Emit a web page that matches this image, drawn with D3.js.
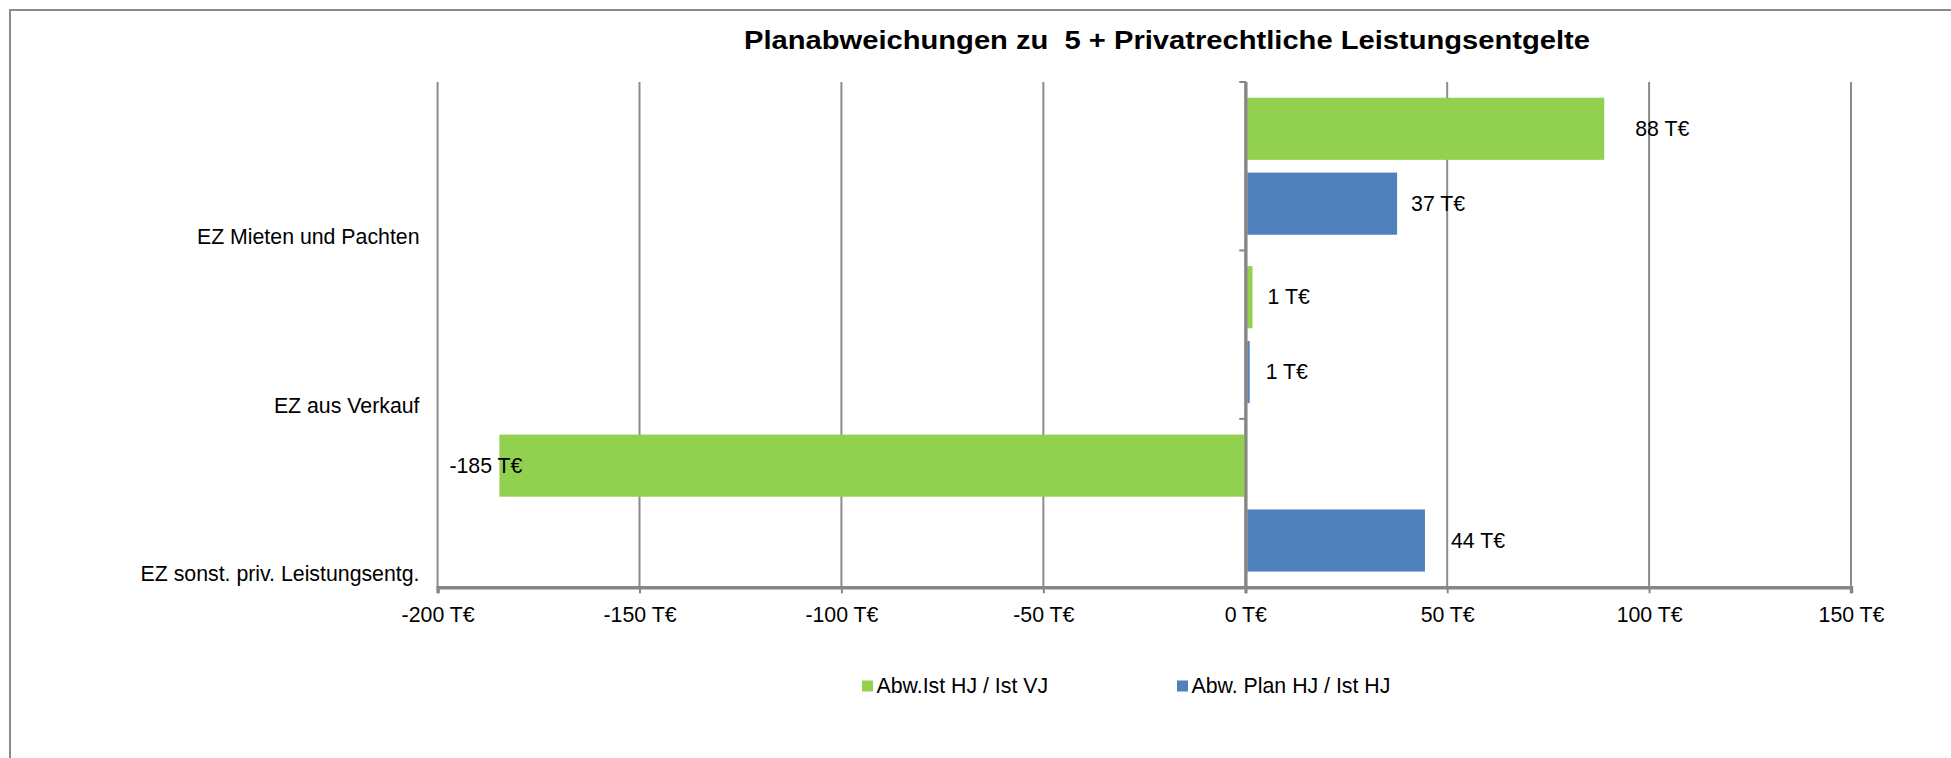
<!DOCTYPE html>
<html>
<head>
<meta charset="utf-8">
<script src="https://cdn.jsdelivr.net/npm/d3@7"></script>
<style>
  html, body { margin: 0; padding: 0; background: #fff; }
  svg { display: block; font-family: "Liberation Sans", Arial, sans-serif; }
</style>
</head>
<body>
<svg id="chart" width="1951" height="758"></svg>
<script>
// ---- data ----
const title = "Planabweichungen zu  5 + Privatrechtliche Leistungsentgelte";
const categories = ["EZ Mieten und Pachten", "EZ aus Verkauf", "EZ sonst. priv. Leistungsentg."];
const seriesNames = ["Abw.Ist HJ / Ist VJ", "Abw. Plan HJ / Ist HJ"];
const seriesIstVJ = [88.4, 1.3, -184.7];
const seriesPlanHJ = [37.1, 0.6, 44.0];
const xTicks = [-200, -150, -100, -50, 0, 50, 100, 150];
const seriesColors = ["#92D050", "#4F81BD"];

// ---- layout (not data) ----
const labelShift = [[33, 16], [17, 18], [-50, 28]]; // px nudges of value labels
const W = 1951, H = 758;
const plot = { left: 437.6, right: 1851, top: 82, bottom: 587.3 };
const fontSize = 21.3;

const svg = d3.select("#chart");

// chart border
svg.append("rect").attr("x", 10).attr("y", 10).attr("width", W + 20).attr("height", H + 20)
  .attr("fill", "#fff").attr("stroke", "#8c8c8c").attr("stroke-width", 2);

// title
svg.append("text").attr("x", 1167).attr("y", 48.5).attr("text-anchor", "middle")
  .attr("xml:space", "preserve").style("white-space", "pre")
  .attr("textLength", 846).attr("lengthAdjust", "spacingAndGlyphs")
  .attr("font-weight", "bold").attr("font-size", 26).attr("fill", "#000").text(title);

const x = d3.scaleLinear().domain([xTicks[0], xTicks[xTicks.length - 1]]).range([plot.left, plot.right]);
const y = d3.scaleBand().domain(categories).range([plot.top, plot.bottom]).paddingInner(0).paddingOuter(0);
const ySub = d3.scaleBand().domain([0, 1]).range([0, y.bandwidth()]).paddingInner(0.17).paddingOuter(0.21);

// gridlines
const g = svg.append("g");
g.selectAll("line.grid").data(xTicks).join("line").attr("class", "grid")
  .attr("x1", d => x(d)).attr("x2", d => x(d))
  .attr("y1", plot.top).attr("y2", plot.bottom)
  .attr("stroke", "#8c8c8c").attr("stroke-width", 2);

// bars (positive bars begin just right of the category axis line)
const rows = categories.map((c, i) => ({ cat: c, i, vals: [seriesIstVJ[i], seriesPlanHJ[i]] }));
const barData = [];
rows.forEach(r => r.vals.forEach((v, s) => barData.push({ cat: r.cat, i: r.i, s, v })));
const axisGap = 2;

svg.append("g").selectAll("rect").data(barData).join("rect")
  .attr("x", d => d.v >= 0 ? x(0) + axisGap : x(d.v))
  .attr("width", d => Math.abs(x(d.v) - x(0)))
  .attr("y", d => y(d.cat) + ySub(d.s))
  .attr("height", ySub.bandwidth())
  .attr("fill", d => seriesColors[d.s]);

// bottom axis
const xAxis = d3.axisBottom(x).tickValues(xTicks).tickSize(6).tickPadding(8).tickFormat(d => d + " T€");
const ax = svg.append("g").attr("transform", `translate(0,${plot.bottom})`).call(xAxis);
ax.select(".domain").attr("stroke", "#868686").attr("stroke-width", 3.5);
ax.selectAll(".tick line").attr("stroke", "#868686").attr("stroke-width", 2);
ax.selectAll(".tick text").attr("font-size", fontSize).attr("font-family", "Liberation Sans, Arial, sans-serif")
  .attr("fill", "#000").attr("dy", "0.95em");

// vertical category axis at 0
const yAxisG = svg.append("g");
yAxisG.append("line").attr("x1", x(0) + 0.8).attr("x2", x(0) + 0.8).attr("y1", plot.top).attr("y2", plot.bottom + 6)
  .attr("stroke", "#868686").attr("stroke-width", 3);
yAxisG.selectAll("line.ytick").data(categories.map(c => y(c)).concat([plot.bottom])).join("line")
  .attr("class", "ytick")
  .attr("x1", x(0) - 6).attr("x2", x(0) + 1).attr("y1", d => d).attr("y2", d => d)
  .attr("stroke", "#868686").attr("stroke-width", 2);

// category labels
svg.append("g").selectAll("text").data(categories).join("text")
  .attr("x", 419.5).attr("y", d => y(d) + y.bandwidth() * 0.922)
  .attr("text-anchor", "end").attr("dominant-baseline", "central")
  .attr("font-size", fontSize).attr("fill", "#000").text(d => d);

// value labels
svg.append("g").selectAll("text").data(barData).join("text")
  .attr("x", d => x(d.v) + labelShift[d.i][d.s])
  .attr("y", d => y(d.cat) + ySub(d.s) + ySub.bandwidth() / 2)
  .attr("dominant-baseline", "central")
  .attr("font-size", fontSize).attr("fill", "#000")
  .text(d => Math.round(d.v) + " T€");

// legend
const legendX = [862, 1177];
const lg = svg.append("g").selectAll("g").data(seriesNames).join("g")
  .attr("transform", (d, i) => `translate(${legendX[i]},686)`);
lg.append("rect").attr("x", 0).attr("y", -5.5).attr("width", 11).attr("height", 11)
  .attr("fill", (d, i) => seriesColors[i]);
lg.append("text").attr("x", 14.5).attr("y", 0).attr("dominant-baseline", "central")
  .attr("font-size", fontSize).attr("fill", "#000").text(d => d);
</script>
</body>
</html>
